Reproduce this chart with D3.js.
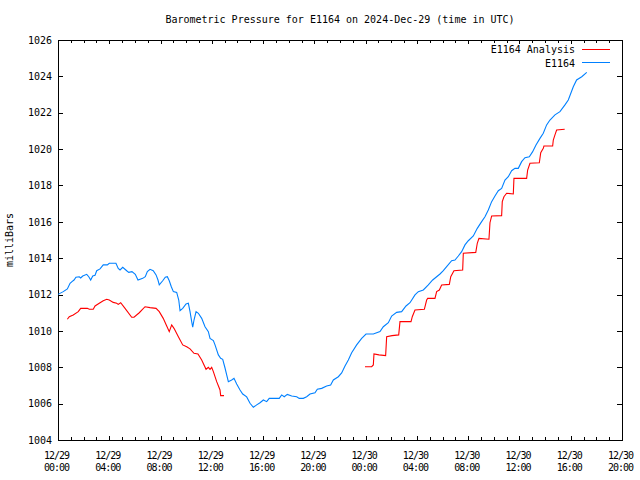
<!DOCTYPE html>
<html>
<head>
<meta charset="utf-8">
<script src="https://cdn.jsdelivr.net/npm/d3@7"></script>
<style>
  html, body { margin: 0; padding: 0; background: #fff; }
  svg { display: block; }
  text { font-family: "DejaVu Sans Mono", "Liberation Mono", monospace; fill: #000; }
</style>
</head>
<body>
<svg id="chart" width="640" height="480"></svg>
<script>
// ---- data (time in hours since 2024-12-29 00:00 UTC, pressure in mb) ----
const titleText = "Barometric Pressure for E1164 on 2024-Dec-29 (time in UTC)";
const yAxisLabel = "milliBars";
const seriesNames = ["E1164 Analysis", "E1164"];
const seriesColors = ["#ff0000", "#0080ff"];

const yTickValues = [1004, 1006, 1008, 1010, 1012, 1014, 1016, 1018, 1020, 1022, 1024, 1026];
const xTickHours = [0, 4, 8, 12, 16, 20, 24, 28, 32, 36, 40, 44];
const xTickDates = ["12/29","12/29","12/29","12/29","12/29","12/29","12/30","12/30","12/30","12/30","12/30","12/30"];
const xTickTimes = ["00:00","04:00","08:00","12:00","16:00","20:00","00:00","04:00","08:00","12:00","16:00","20:00"];

const stationHours = [0.00,0.41,0.73,0.94,1.09,1.25,1.40,1.66,1.77,1.93,2.24,2.40,2.55,2.71,2.89,3.02,3.28,3.53,3.85,4.00,4.52,4.70,4.84,5.05,5.36,5.52,5.77,6.03,6.24,6.61,6.81,6.97,7.18,7.43,7.65,7.80,7.90,8.17,8.37,8.53,8.68,8.84,9.00,9.26,9.42,9.52,9.73,9.99,10.17,10.30,10.43,10.51,10.61,10.77,10.95,11.21,11.47,11.73,11.86,12.12,12.25,12.51,12.69,12.85,13.03,13.16,13.29,13.55,13.73,13.94,14.20,14.41,14.72,14.98,15.24,15.50,15.76,16.02,16.28,16.48,17.26,17.45,17.65,17.89,18.23,18.62,18.82,19.14,19.40,19.66,20.05,20.23,20.57,20.96,21.27,21.48,21.87,22.13,22.39,22.65,22.91,23.30,23.69,24.03,24.60,25.12,25.38,25.77,26.03,26.42,26.81,27.15,27.46,27.85,28.11,28.50,28.89,29.23,29.80,30.06,30.32,30.71,30.97,31.23,31.49,31.75,32.01,32.40,32.71,33.05,33.31,33.57,33.83,34.09,34.35,34.61,34.87,35.13,35.39,35.65,35.91,36.17,36.43,36.77,37.03,37.29,37.60,37.86,38.12,38.38,38.77,39.16,39.55,39.81,40.20,40.46,40.86,41.25];
const stationValues = [1012.01,1012.16,1012.31,1012.62,1012.71,1012.80,1012.95,1012.98,1012.91,1013.02,1013.11,1012.98,1012.80,1013.02,1013.06,1013.31,1013.41,1013.63,1013.63,1013.72,1013.72,1013.44,1013.35,1013.50,1013.31,1013.22,1013.26,1013.11,1012.80,1012.89,1012.98,1013.26,1013.39,1013.31,1013.08,1012.80,1012.53,1012.76,1012.95,1012.98,1012.76,1012.43,1012.16,1012.12,1011.70,1011.11,1011.24,1011.48,1011.52,1011.06,1010.51,1010.20,1010.60,1011.06,1010.97,1010.69,1010.23,1009.96,1009.59,1009.47,1009.23,1008.68,1008.49,1008.44,1007.96,1007.58,1007.21,1007.30,1007.39,1007.08,1006.75,1006.53,1006.37,1006.02,1005.80,1005.93,1006.05,1006.20,1006.11,1006.29,1006.29,1006.48,1006.38,1006.51,1006.42,1006.38,1006.29,1006.29,1006.38,1006.53,1006.60,1006.79,1006.84,1006.97,1007.03,1007.30,1007.48,1007.69,1008.07,1008.40,1008.80,1009.23,1009.59,1009.83,1009.83,1009.96,1010.23,1010.45,1010.82,1011.02,1011.06,1011.37,1011.55,1011.98,1012.16,1012.25,1012.53,1012.80,1013.13,1013.31,1013.53,1013.86,1013.90,1014.12,1014.36,1014.73,1014.96,1015.22,1015.64,1016.01,1016.28,1016.65,1017.11,1017.42,1017.71,1017.84,1018.30,1018.48,1018.81,1018.94,1018.94,1019.31,1019.53,1019.58,1019.86,1020.23,1020.59,1020.87,1021.33,1021.60,1021.88,1022.06,1022.43,1022.70,1023.43,1023.80,1023.98,1024.22];

// null marks the gap in the analysis series
const analysisHours = [0.73,0.88,1.19,1.58,1.77,2.29,2.44,2.75,2.89,3.22,3.53,3.80,4.00,4.31,4.58,4.70,4.89,5.23,5.75,5.93,6.34,6.79,7.18,7.65,7.90,8.21,8.48,8.68,8.87,9.05,9.39,9.73,10.04,10.30,10.61,10.92,11.21,11.55,11.73,11.86,11.99,12.12,12.38,12.64,12.69,12.95,
  18.5,
  23.95,24.47,24.60,24.65,25.04,25.56,25.64,26.06,26.58,26.68,27.54,27.64,27.85,28.58,28.76,28.84,29.41,29.54,29.75,29.93,30.53,30.64,30.89,31.57,31.62,32.59,32.71,32.84,33.62,33.70,33.83,34.61,34.66,34.79,35.00,35.52,35.57,36.56,36.64,36.82,37.55,37.66,37.86,37.91,38.59,38.64,38.77,38.90,39.53];
const analysisValues = [1010.64,1010.78,1010.88,1011.06,1011.24,1011.24,1011.19,1011.19,1011.37,1011.52,1011.66,1011.74,1011.70,1011.57,1011.52,1011.46,1011.55,1011.24,1010.75,1010.75,1011.00,1011.33,1011.28,1011.24,1011.06,1010.69,1010.27,1009.96,1010.33,1010.14,1009.68,1009.23,1009.13,1009.01,1008.77,1008.73,1008.40,1007.89,1008.00,1007.89,1008.00,1007.76,1007.21,1006.75,1006.44,1006.44,
  null,
  1008.03,1008.03,1008.13,1008.73,1008.68,1008.64,1009.68,1009.74,1009.78,1010.51,1010.51,1010.78,1011.15,1011.19,1011.70,1011.79,1011.79,1012.16,1012.25,1012.53,1012.56,1012.98,1013.31,1013.35,1014.27,1014.32,1014.82,1015.09,1015.04,1015.95,1016.32,1016.34,1017.11,1017.38,1017.57,1017.53,1018.39,1018.39,1018.85,1019.22,1019.25,1019.80,1020.04,1020.17,1020.17,1020.50,1020.78,1021.05,1021.09];

// ---- layout ----
const svg = d3.select("#chart");
const L = 58, R = 622, T = 40, B = 440;
const x = d3.scaleLinear().domain([0, 44]).range([L, R]);
const y = d3.scaleLinear().domain([1004, 1026]).range([B, T]);

// title
svg.append("text").attr("x", (L + R) / 2).attr("y", 23)
  .attr("text-anchor", "middle").style("font-size", "10px").text(titleText);

// y label
svg.append("text").attr("transform", "translate(13,240) rotate(-90)")
  .attr("text-anchor", "middle").style("font-size", "10px").text(yAxisLabel);

const crisp = g => g.selectAll("line,path").attr("shape-rendering", "crispEdges");

// left axis
const gl = svg.append("g").attr("transform", `translate(${L},0)`)
  .call(d3.axisLeft(y).tickValues(yTickValues).tickFormat(d3.format("d")).tickSizeInner(-5).tickSizeOuter(0).tickPadding(6));
gl.select(".domain").remove();
gl.selectAll("text").style("font-size", "10px").attr("font-family", null);
crisp(gl);

// right axis
const gr = svg.append("g").attr("transform", `translate(${R},0)`)
  .call(d3.axisRight(y).tickValues(yTickValues).tickFormat("").tickSizeInner(-5).tickSizeOuter(0));
gr.select(".domain").remove();
crisp(gr);

// hourly minor ticks, bottom and top
const hourly = d3.range(0, 45);
const gbm = svg.append("g").attr("transform", `translate(0,${B})`)
  .call(d3.axisBottom(x).tickValues(hourly).tickFormat("").tickSizeInner(-3).tickSizeOuter(0));
gbm.select(".domain").remove();
crisp(gbm);
const gtm = svg.append("g").attr("transform", `translate(0,${T})`)
  .call(d3.axisTop(x).tickValues(hourly).tickFormat("").tickSizeInner(-3).tickSizeOuter(0));
gtm.select(".domain").remove();
crisp(gtm);

// bottom major ticks with two-line labels
const gb = svg.append("g").attr("transform", `translate(0,${B})`)
  .call(d3.axisBottom(x).tickValues(xTickHours).tickSizeInner(-4).tickSizeOuter(0).tickFormat(""));
gb.select(".domain").remove();
gb.selectAll(".tick text").each(function (d, i) {
  const t = d3.select(this).attr("font-family", null).style("font-size", "10px")
    .style("letter-spacing", "-1px").attr("dy", null).attr("y", 19);
  t.append("tspan").attr("x", -2).text(xTickDates[i]);
  t.append("tspan").attr("x", -2).attr("dy", 12).text(xTickTimes[i]);
});
crisp(gb);
const gt = svg.append("g").attr("transform", `translate(0,${T})`)
  .call(d3.axisTop(x).tickValues(xTickHours).tickFormat("").tickSizeInner(-4).tickSizeOuter(0));
gt.select(".domain").remove();
crisp(gt);

// frame
svg.append("rect").attr("x", L + 0.5).attr("y", T + 0.5).attr("width", R - L).attr("height", B - T)
  .attr("fill", "none").attr("stroke", "#000").attr("stroke-width", 1).attr("shape-rendering", "crispEdges");

// series
const line = d3.line().defined(d => d[1] !== null).x(d => x(d[0])).y(d => y(d[1]));
const analysisData = analysisHours.map((h, i) => [h, analysisValues[i]]);
const stationData = stationHours.map((h, i) => [h, stationValues[i]]);

svg.append("path").datum(analysisData).attr("d", line)
  .attr("fill", "none").attr("stroke", seriesColors[0]).attr("stroke-width", 1.1);
svg.append("path").datum(stationData).attr("d", line)
  .attr("fill", "none").attr("stroke", seriesColors[1]).attr("stroke-width", 1.1);

// legend
const legend = svg.append("g");
seriesNames.forEach((name, i) => {
  const ly = 49 + i * 13.5;
  legend.append("text").attr("x", 575).attr("y", ly + 4).attr("text-anchor", "end")
    .style("font-size", "10px").text(name);
  legend.append("line").attr("x1", 582).attr("x2", 610).attr("y1", ly).attr("y2", ly)
    .attr("stroke", seriesColors[i]).attr("stroke-width", 1).attr("shape-rendering", "crispEdges");
});
</script>
</body>
</html>
